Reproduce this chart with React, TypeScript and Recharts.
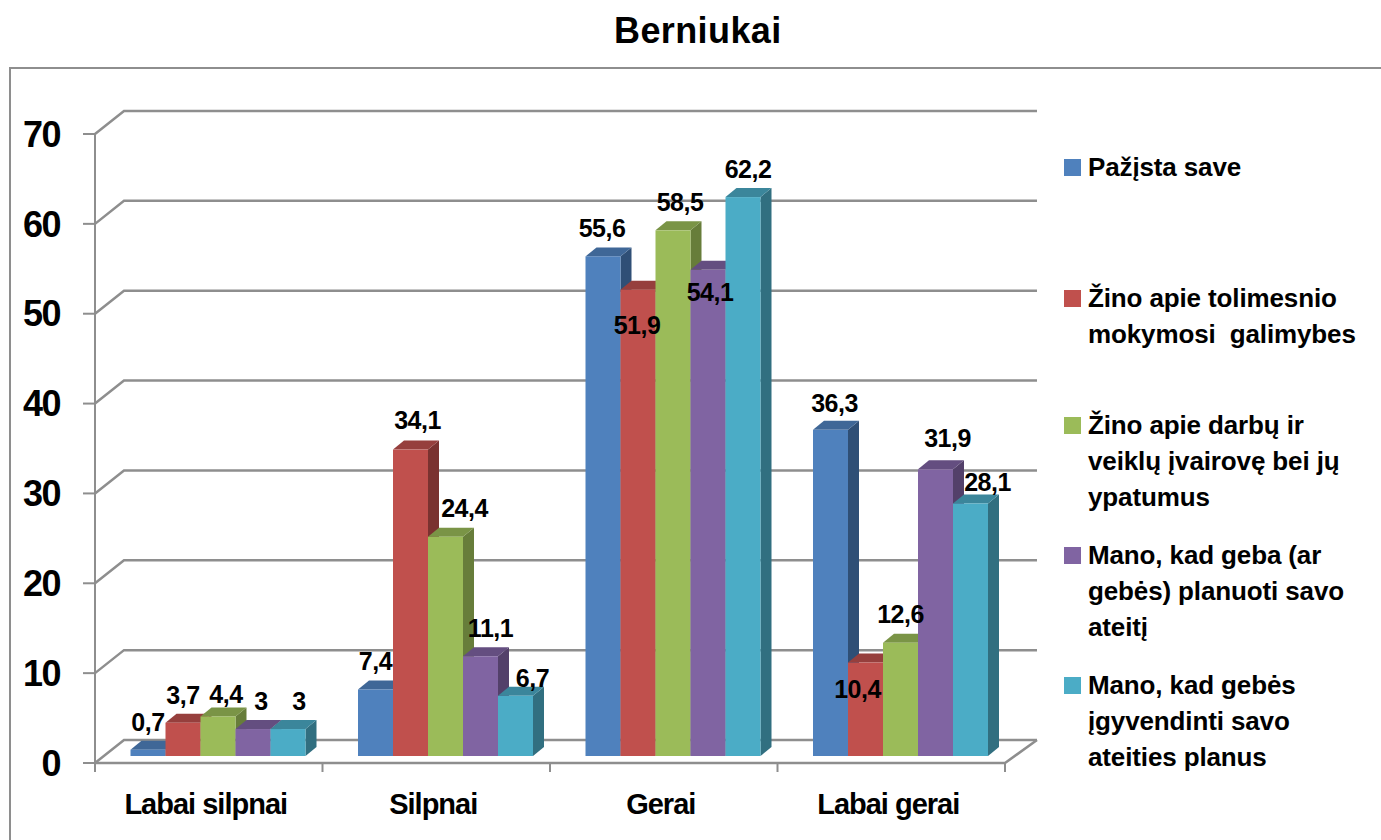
import { BarChart, Bar, XAxis, YAxis, CartesianGrid, ReferenceLine, LabelList, Legend } from 'recharts'

const categories = ['Labai silpnai', 'Silpnai', 'Gerai', 'Labai gerai']
const pazista = [0.7, 7.4, 55.6, 36.3]
const tolimesnio = [3.7, 34.1, 51.9, 10.4]
const darbu = [4.4, 24.4, 58.5, 12.6]
const planuoti = [3, 11.1, 54.1, 31.9]
const igyvendinti = [3, 6.7, 62.2, 28.1]
const yTicks = [0, 10, 20, 30, 40, 50, 60, 70]

const seriesNames = [
  'Pažįsta save',
  'Žino apie tolimesnio\nmokymosi  galimybes',
  'Žino apie darbų ir\nveiklų įvairovę bei jų\nypatumus',
  'Mano, kad geba (ar\ngebės) planuoti savo\nateitį',
  'Mano, kad gebės\nįgyvendinti savo\nateities planus',
]

const data = categories.map((name, i) => ({
  name,
  s0: pazista[i],
  s1: tolimesnio[i],
  s2: darbu[i],
  s3: planuoti[i],
  s4: igyvendinti[i],
}))

const FONT = '"Liberation Sans", Arial, sans-serif'
const GREY = '#8e8e8e'

// front, top and side face of each series
const faces = [
  ['#4F81BD', '#3F6797', '#2F4F76'],
  ['#C0504D', '#963F3D', '#7A3230'],
  ['#9BBB59', '#7A9446', '#677D3A'],
  ['#8064A2', '#644E80', '#53406A'],
  ['#4BACC6', '#3B869B', '#316F80'],
]

// where the original put each value label, relative to the front top of its bar
const labelNudge = [
  [[0, -28], [0, -29], [-1, -28], [4, -27]],
  [[0, -28], [7, -30], [-1, 35], [-8, 26]],
  [[8, -22], [19, -29], [7, -28], [0, -29]],
  [[8, -28], [10, -28], [2, 22], [12, -31]],
  [[11, -28], [17, -18], [5, -28], [17, -22]],
]

const legendTop = [149, 280, 407, 537, 667]

// depth of the bars and of the wall behind them
const BAR_DX = 9.25
const BAR_DY = -7
const BAR_DEPTH_X = 11
const BAR_DEPTH_Y = -9
const WALL_DY = -23
const WALL_LEFT_DX = 29
const WALL_RIGHT_DX = 32
const BAND = 227.5

function Block(props: any) {
  const { x, y, width, height, series } = props
  const [front, top, side] = faces[series]
  const l = x + BAR_DX
  const r = l + width
  const t = y + BAR_DY
  const b = t + height
  const dx = BAR_DEPTH_X
  const dy = BAR_DEPTH_Y
  return (
    <g>
      <path d={`M${r},${t} L${r + dx},${t + dy} L${r + dx},${b + dy} L${r},${b} Z`} fill={side} />
      <path d={`M${l},${t} L${l + dx},${t + dy} L${r + dx},${t + dy} L${r},${t} Z`} fill={top} />
      <rect x={l} y={t} width={width} height={height} fill={front} />
    </g>
  )
}

function WallLine(props: any) {
  const { x1, x2, y1 } = props
  const p = `${x1},${y1} ${x1 + WALL_LEFT_DX},${y1 + WALL_DY} ${x2 + WALL_RIGHT_DX},${y1 + WALL_DY}`
  return <polyline points={p} fill="none" stroke={GREY} strokeWidth={2.5} />
}

function FloorEdge(props: any) {
  const { x1, x2, y1 } = props
  const p = `${x1},${y1} ${x2},${y1} ${x2 + WALL_RIGHT_DX},${y1 + WALL_DY}`
  return <polyline points={p} fill="none" stroke={GREY} strokeWidth={2.5} />
}

function CategoryTick(props: any) {
  const { x, y, payload, index } = props
  const last = index === categories.length - 1
  return (
    <g>
      <line x1={x - BAND / 2} x2={x - BAND / 2} y1={y} y2={y + 9} stroke={GREY} strokeWidth={2} />
      {last && <line x1={x + BAND / 2} x2={x + BAND / 2} y1={y} y2={y + 9} stroke={GREY} strokeWidth={2} />}
      <text
        x={x - 3}
        y={y + 41}
        textAnchor="middle"
        dominantBaseline="central"
        fontFamily={FONT}
        fontWeight={700}
        fontSize={29}
        letterSpacing={-1}
        fill="#000"
      >
        {payload.value}
      </text>
    </g>
  )
}

function valueLabel(series: number) {
  return (props: any) => {
    const { x, y, width, value, index } = props
    const [dx, dy] = labelNudge[series][index]
    return (
      <text
        x={x + BAR_DX + width / 2 + dx}
        y={y + BAR_DY + dy}
        textAnchor="middle"
        dominantBaseline="central"
        fontFamily={FONT}
        fontWeight={700}
        fontSize={25}
        letterSpacing={-0.5}
        fill="#000"
      >
        {String(value).replace('.', ',')}
      </text>
    )
  }
}

function SideLegend(props: any) {
  return (
    <div style={{ position: 'relative', width: 0, height: 0 }}>
      {props.payload.map((entry: any, i: number) => (
        <div key={i}>
          <div
            style={{
              position: 'absolute',
              left: 1064,
              top: legendTop[i] + 10,
              width: 17,
              height: 17,
              background: entry.color,
            }}
          />
          <div
            style={{
              position: 'absolute',
              left: 1088,
              top: legendTop[i],
              width: 290,
              whiteSpace: 'pre',
              fontFamily: FONT,
              fontWeight: 700,
              fontSize: 26,
              letterSpacing: -0.13,
              lineHeight: '36px',
              color: '#000',
            }}
          >
            {entry.value}
          </div>
        </div>
      ))}
    </div>
  )
}

export default function App() {
  return (
    <div style={{ position: 'absolute', left: 0, top: 0, width: 1381, height: 840, overflow: 'hidden', background: '#fff' }}>
      <div
        style={{
          position: 'absolute',
          left: 9,
          top: 67,
          width: 1372,
          height: 773,
          borderTop: `2px solid ${GREY}`,
          borderLeft: `2px solid ${GREY}`,
        }}
      />
      <div
        style={{
          position: 'absolute',
          left: 614,
          top: 10,
          fontFamily: FONT,
          fontWeight: 700,
          fontSize: 36,
          letterSpacing: 0.4,
          lineHeight: '42px',
          color: '#000',
        }}
      >
        Berniukai
      </div>
      <div style={{ position: 'absolute', left: 0, top: 0 }}>
        <BarChart
          width={1381}
          height={840}
          data={data}
          margin={{ top: 134, right: 376, bottom: 37, left: 35 }}
          barCategoryGap={26.25}
          barGap={0}
        >
          <CartesianGrid vertical={false} horizontal={<WallLine />} />
          <XAxis
            dataKey="name"
            height={40}
            interval={0}
            tickLine={false}
            tickSize={0}
            tickMargin={0}
            axisLine={false}
            tick={<CategoryTick />}
          />
          <YAxis
            domain={[0, 70]}
            ticks={yTicks}
            width={60}
            stroke={GREY}
            strokeWidth={2}
            tickSize={12}
            tickMargin={23}
            tick={{ fontSize: 36, fontWeight: 700, fontFamily: FONT, fill: '#000', letterSpacing: -1.5 }}
          />
          <ReferenceLine y={0} shape={<FloorEdge />} />
          {faces.map((f, i) => (
            <Bar
              key={i}
              dataKey={`s${i}`}
              name={seriesNames[i]}
              fill={f[0]}
              isAnimationActive={false}
              shape={(p: any) => <Block {...p} series={i} />}
            >
              <LabelList dataKey={`s${i}`} content={valueLabel(i)} />
            </Bar>
          ))}
          <Legend
            layout="vertical"
            align="right"
            verticalAlign="top"
            itemSorter={null}
            content={<SideLegend />}
            wrapperStyle={{ position: 'absolute', left: 0, top: 0, width: 0, height: 0 }}
          />
        </BarChart>
      </div>
    </div>
  )
}
